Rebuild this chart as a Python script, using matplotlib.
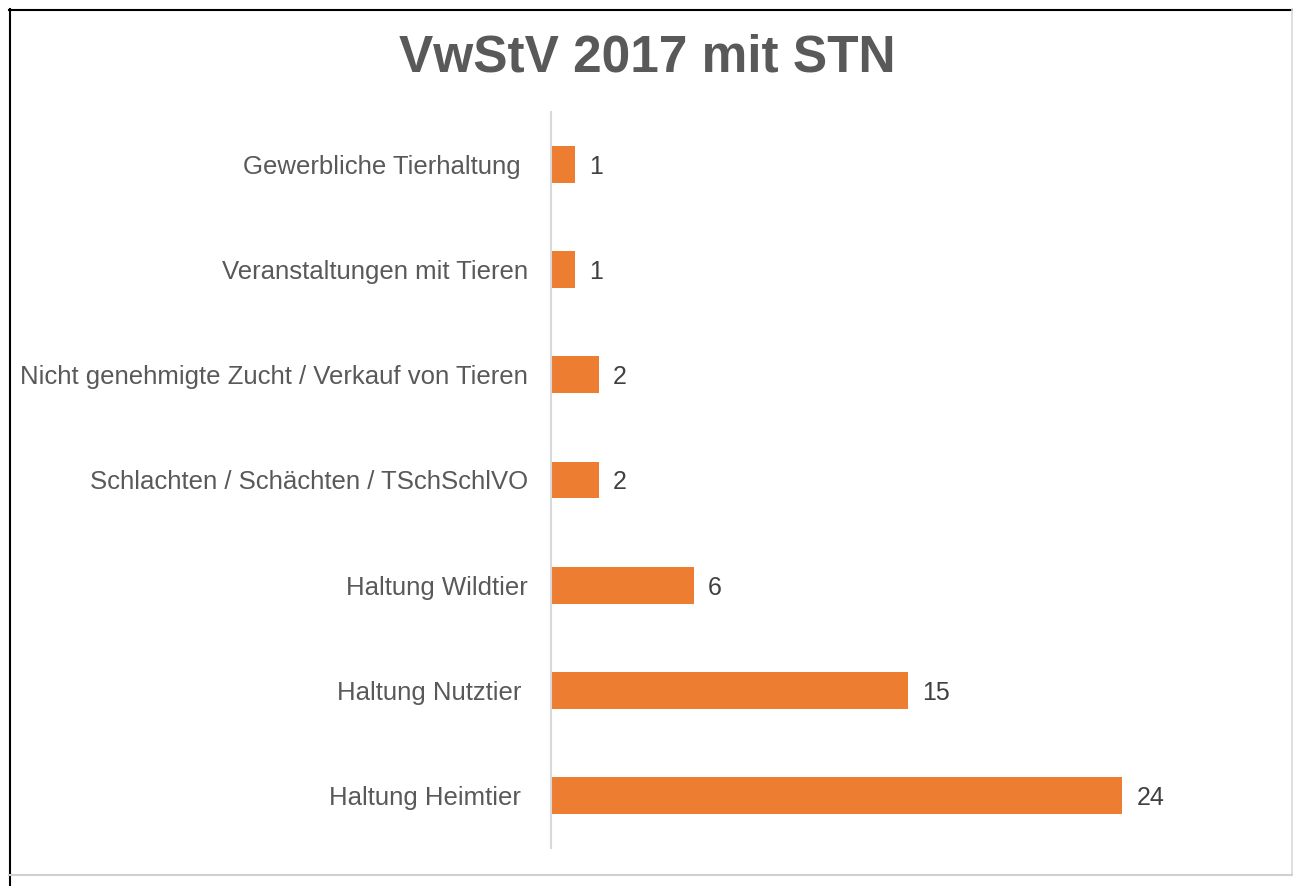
import matplotlib.pyplot as plt
from matplotlib.lines import Line2D

plt.rcParams['font.family'] = ['Liberation Sans', 'DejaVu Sans']

# categories from bottom to top
categories = ['Haltung Heimtier ', 'Haltung Nutztier ', 'Haltung Wildtier',
              'Schlachten / Schächten / TSchSchlVO',
              'Nicht genehmigte Zucht / Verkauf von Tieren',
              'Veranstaltungen mit Tieren', 'Gewerbliche Tierhaltung ']
values = [24, 15, 6, 2, 2, 1, 1]
title = 'VwStV 2017 mit STN'

bar_color = '#ED7D31'
label_color = '#595959'

fig = plt.figure(figsize=(12.93, 8.86), dpi=100)
ax = fig.add_axes([551 / 1293, 1 - 848 / 886, (1265 - 551) / 1293, (848 - 112) / 886])

pos = range(len(categories))
ax.barh(pos, values, height=0.35, color=bar_color)
for p, v in zip(pos, values):
    ax.text(v + 0.6, p, str(v), va='center_baseline', ha='left', fontsize=18, color='#404040')

ax.set_xlim(0, 30)
ax.set_ylim(-0.5, len(categories) - 0.5)
ax.set_yticks(list(pos))
ax.set_yticklabels(categories, fontsize=18.5, color=label_color)
ax.tick_params(axis='y', length=0, pad=16.5)
ax.set_xticks([])
for s in ['top', 'right', 'bottom']:
    ax.spines[s].set_visible(False)
ax.spines['left'].set_color('#D9D9D9')
ax.spines['left'].set_linewidth(1.5)

fig.text(647 / 1293, 1 - 53 / 886, title, ha='center', va='center_baseline',
         fontsize=37, fontweight='bold', color=label_color)

# outer frame
W, H = 1293, 886
def fl(x0, y0, x1, y1, c, lw):
    fig.add_artist(Line2D([x0 / W, x1 / W], [1 - y0 / H, 1 - y1 / H], color=c, lw=lw))
fl(9, 9.5, 1292, 9.5, 'black', 1.5)
fl(9.5, 9, 9.5, 886, 'black', 1.5)
fl(1291.5, 9, 1291.5, 875, '#D9D9D9', 1.2)
fl(9, 875, 1292, 875, '#D0D0D0', 1.5)

fig.savefig('out.png', dpi=100)
